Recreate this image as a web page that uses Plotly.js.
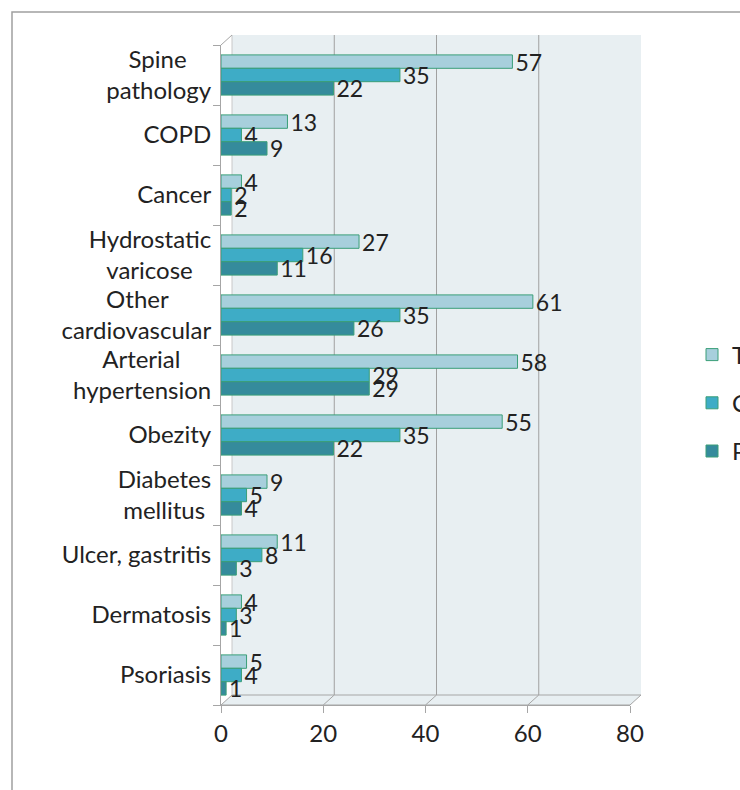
<!DOCTYPE html>
<html>
<head>
<meta charset="utf-8">
<script src="https://cdn.plot.ly/plotly-3.0.1.min.js"></script>
<style>
html,body{margin:0;padding:0;background:#fff;}
#chart{width:740px;height:790px;}
</style>
</head>
<body>
<div id="chart"></div>
<script>
const categories = [
  "Spine<br>pathology", "COPD", "Cancer", "Hydrostatic<br>varicose",
  "Other<br>cardiovascular", "Arterial<br>hypertension", "Obezity",
  "Diabetes<br>mellitus", "Ulcer, gastritis", "Dermatosis", "Psoriasis"
];
const seriesNames = ["T", "C", "P"];
const valuesT = [57, 13, 4, 27, 61, 58, 55, 9, 11, 4, 5];
const valuesC = [35, 4, 2, 16, 35, 29, 35, 5, 8, 3, 4];
const valuesP = [22, 9, 2, 11, 26, 29, 22, 4, 3, 1, 1];
const xTicks = [0, 20, 40, 60, 80];

const colors = ["#a7cfdc", "#3eacc6", "#358b9c"];
const seriesValues = [valuesT, valuesC, valuesP];

const FONT = "Lato, 'Open Sans', sans-serif";
const FS = 24;
const L = 221, R = 110, T = 45, B = 85;
const W = 740 - L - R, H = 790 - T - B;
const DX = 11, DY = 10; // 3D depth offsets in px

// centre multi-line category labels by padding shorter lines with no-break spaces
const ctx = document.createElement("canvas").getContext("2d");
ctx.font = FS + "px Lato";
const nbspW = ctx.measureText("\u00A0").width || FS * 0.2;
const tickText = categories.map(c => {
  const lines = c.split("<br>");
  if (lines.length < 2) return c;
  const widths = lines.map(s => ctx.measureText(s).width);
  const maxW = Math.max(...widths);
  return lines.map((s, i) => s + "\u00A0".repeat(Math.round((maxW - widths[i]) / 2 / nbspW))).join("<br>");
});

const traces = seriesValues.map((vals, i) => ({
  type: "bar",
  orientation: "h",
  name: seriesNames[i],
  legendgroup: seriesNames[i],
  y: categories,
  x: vals,
  text: vals.map(String),
  textposition: "outside",
  constraintext: "none",
  cliponaxis: false,
  textfont: {family: FONT, size: 23, color: "#222"},
  marker: {color: colors[i], line: {color: "#3a9e78", width: 1}},
  hoverinfo: "x+y"
}));

const grey = "#a6a6a6";
const shapes = [];
// outer chart border (extends beyond the picture on right and bottom)
shapes.push({type: "rect", xref: "paper", yref: "paper",
  x0: (12 - L) / W, x1: (760 - L) / W, y0: (705 - 800) / H, y1: 1 + (T - 12) / H,
  line: {color: "#a0a0a0", width: 1.5}, fillcolor: "rgba(0,0,0,0)", layer: "below"});
// back wall
shapes.push({type: "rect", xref: "paper", yref: "paper",
  x0: DX / W, x1: 1 + DX / W, y0: DY / H, y1: 1 + DY / H,
  fillcolor: "#e8eff2", line: {width: 0}, layer: "below"});
// floor
shapes.push({type: "path", xref: "paper", yref: "paper",
  path: `M 0 0 L 1 0 L ${1 + DX / W} ${DY / H} L ${DX / W} ${DY / H} Z`,
  fillcolor: "#e8eff2", line: {color: grey, width: 1}, layer: "below"});
// left wall edge lines
shapes.push({type: "line", xref: "paper", yref: "paper",
  x0: DX / W, x1: DX / W, y0: DY / H, y1: 1 + DY / H,
  line: {color: "#c8c8c8", width: 1}, layer: "below"});
shapes.push({type: "line", xref: "paper", yref: "paper",
  x0: 0, x1: DX / W, y0: 1, y1: 1 + DY / H,
  line: {color: grey, width: 1}, layer: "below"});
// back-wall gridlines and floor diagonals
xTicks.slice(1).forEach(v => {
  const last = v === xTicks[xTicks.length - 1];
  shapes.push({type: "line", xref: "x", xsizemode: "pixel", xanchor: v,
    x0: DX, x1: DX, yref: "paper", y0: DY / H, y1: 1 + DY / H,
    line: {color: last ? "#8c8c8c" : "#a0a0a0", width: last ? 2 : 1},
    layer: "below"});
  shapes.push({type: "line", xref: "x", xsizemode: "pixel", xanchor: v,
    x0: 0, x1: DX, yref: "paper", y0: 0, y1: DY / H,
    line: {color: grey, width: 1}, layer: "below"});
});

const layout = {
  width: 740, height: 790,
  margin: {l: L, r: R, t: T, b: B, autoexpand: false},
  paper_bgcolor: "#ffffff",
  plot_bgcolor: "rgba(0,0,0,0)",
  barmode: "group",
  bargap: 0.33,
  bargroupgap: 0,
  font: {family: FONT, size: FS, color: "#222"},
  showlegend: true,
  legend: {
    x: (692 - L) / W, xanchor: "left",
    y: (705 - 403) / H, yanchor: "middle",
    font: {family: FONT, size: FS, color: "#222"},
    tracegroupgap: 14, bgcolor: "rgba(0,0,0,0)", traceorder: "grouped"
  },
  xaxis: {
    range: [xTicks[0], xTicks[xTicks.length - 1]],
    tickvals: xTicks, ticktext: xTicks.map(String),
    showgrid: false, zeroline: false,
    showline: true, linecolor: grey, linewidth: 1,
    ticks: "outside", ticklen: 7, tickcolor: grey,
    tickfont: {family: FONT, size: FS, color: "#222"},
    fixedrange: true
  },
  yaxis: {
    type: "category",
    autorange: "reversed",
    tickvals: categories, ticktext: tickText,
    showgrid: false, zeroline: false,
    showline: true, linecolor: grey, linewidth: 1,
    ticks: "outside", ticklen: 7, tickcolor: grey,
    tickson: "boundaries",
    ticklabelstandoff: 4,
    tickfont: {family: FONT, size: FS, color: "#222"},
    fixedrange: true
  },
  shapes: shapes
};

Plotly.newPlot("chart", traces, layout, {displayModeBar: false, staticPlot: true});
</script>
</body>
</html>
